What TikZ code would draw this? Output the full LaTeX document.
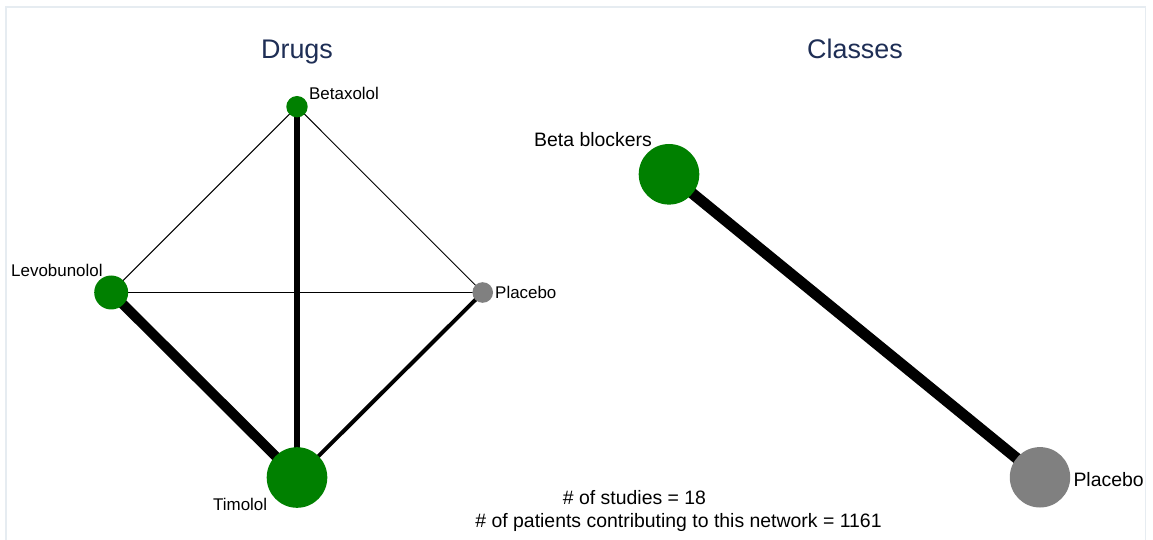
\documentclass[tikz,border=0pt]{standalone}
\usepackage{fontspec}
\setmainfont{Liberation Sans}
\definecolor{ngreen}{RGB}{0,128,0}
\definecolor{ngray}{RGB}{128,128,128}
\definecolor{ttl}{RGB}{30,46,85}
\definecolor{frm}{RGB}{230,236,241}
\begin{document}
\begin{tikzpicture}[x=1bp,y=-1bp,
  drug/.style={circle,fill=ngreen,inner sep=0pt,draw=none},
  pla/.style={circle,fill=ngray,inner sep=0pt,draw=none},
  lab/.style={anchor=base west,inner sep=0pt,font=\fontsize{17}{20}\selectfont},
  clab/.style={anchor=base west,inner sep=0pt,font=\fontsize{19.5}{23}\selectfont},
  ttlstyle/.style={anchor=base,inner sep=0pt,text=ttl,font=\fontsize{27}{32}\selectfont},
  info/.style={anchor=base,inner sep=0pt,font=\fontsize{19.5}{23}\selectfont},
  edge/.style={draw=black,line cap=butt}]
\useasboundingbox (0,0) rectangle (1153,540);
\fill[white] (0,0) rectangle (1153,540);
\begin{scope}
\clip (0,0) rectangle (1153,540);
\draw[frm,line width=1.2bp] (6,560) -- (6,7) -- (1145.5,7) -- (1145.5,560);
\end{scope}
% node coordinates
\coordinate (bx) at (297,106.7);
\coordinate (lv) at (111.2,292.5);
\coordinate (pd) at (482.7,292.5);
\coordinate (tm) at (297,477.5);
\coordinate (bb) at (669,174.3);
\coordinate (pc) at (1040,477.3);
% edges
\draw[edge,line width=1bp] (bx) -- (lv);
\draw[edge,line width=1bp] (bx) -- (pd);
\draw[edge,line width=1bp] (lv) -- (pd);
\draw[edge,line width=10bp] (lv) -- (tm);
\draw[edge,line width=5.5bp] (bx) -- (tm);
\draw[edge,line width=4bp] (pd) -- (tm);
\draw[edge,line width=11bp] (bb) -- (pc);
% nodes
\node[drug,minimum size=21.4bp] (nbx) at (bx) {};
\node[drug,minimum size=34bp] (nlv) at (lv) {};
\node[pla,minimum size=20.6bp] (npd) at (pd) {};
\node[drug,minimum size=60.6bp] (ntm) at (tm) {};
\node[drug,minimum size=60.6bp] (nbb) at (bb) {};
\node[pla,minimum size=60.4bp] (npc) at (pc) {};
% labels
\node[lab] (lbx) at (309,100) {Betaxolol};
\node[lab] (llv) at (11,277) {Levobunolol};
\node[lab] (lpd) at (495,299) {Placebo};
\node[lab] (ltm) at (213,510) {Timolol};
\node[clab] (lbb) at (534,147) {Beta blockers};
\node[clab] (lpc) at (1073.3,486) {Placebo};
% titles
\node[ttlstyle] (t1) at (297,59) {Drugs};
\node[ttlstyle] (t2) at (855,59) {Classes};
% info
\node[info] (i1) at (634.5,504) {\# of studies = 18};
\node[info] (i2) at (678.5,527) {\# of patients contributing to this network = 1161};
\end{tikzpicture}
\end{document}
